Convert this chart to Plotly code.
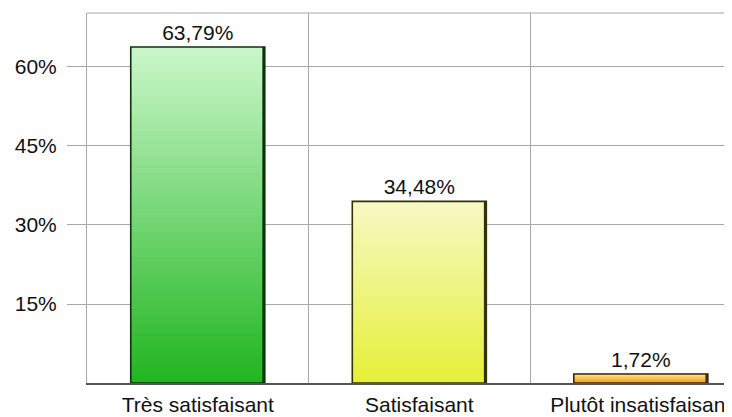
import plotly.graph_objects as go

categories = ["Très satisfaisant", "Satisfaisant", "Plutôt insatisfaisant"]
values = [63.79, 34.48, 1.72]
top_colors = ["#c9f6c9", "#f6f9c2", "#fde089"]
bottom_colors = ["#22b622", "#e6f03a", "#f0a21a"]
edge_colors = ["#0b320b", "#33330a", "#3a2a05"]
y_ticks = [15, 30, 45, 60]
y_labels = ["15%", "30%", "45%", "60%"]

N_STEPS = 40


def mix(c1, c2, t):
    a = [int(c1[i:i + 2], 16) for i in (1, 3, 5)]
    b = [int(c2[i:i + 2], 16) for i in (1, 3, 5)]
    return "rgb({},{},{})".format(*[round(a[k] + (b[k] - a[k]) * t) for k in range(3)])


fig = go.Figure()
bar_w = 0.605
shadow_w = 0.011

# gradient: each slice runs from its base up to the bar top, later slices cover earlier ones
for i, (cat, v) in enumerate(zip(categories, values)):
    step = v / N_STEPS
    fig.add_trace(go.Bar(
        x=[cat] * N_STEPS,
        y=[v - k * step for k in range(N_STEPS)],
        base=[k * step for k in range(N_STEPS)],
        width=bar_w,
        marker=dict(color=[mix(bottom_colors[i], top_colors[i], k / (N_STEPS - 1)) for k in range(N_STEPS)],
                    line=dict(width=0)),
        hoverinfo="skip",
        showlegend=False,
    ))

# dark strip on the right side of each bar
fig.add_trace(go.Bar(
    x=categories,
    y=values,
    width=shadow_w,
    offset=bar_w / 2 - shadow_w,
    marker=dict(color=edge_colors, line=dict(width=0)),
    hoverinfo="skip",
    showlegend=False,
))

# outline + labels
fig.add_trace(go.Bar(
    x=categories,
    y=values,
    width=bar_w,
    marker=dict(color="rgba(0,0,0,0)", line=dict(color=edge_colors, width=1.6)),
    text=[f"{v:.2f}%".replace(".", ",") for v in values],
    textposition="outside",
    cliponaxis=False,
    textfont=dict(size=21, color="#111111"),
    showlegend=False,
))

# the page puts the figure 8px in from the top-left corner
fig.update_layout(
    width=724, height=409,
    barmode="overlay",
    plot_bgcolor="white", paper_bgcolor="white",
    margin=dict(l=79, r=1, t=5, b=34),
    font=dict(family="Liberation Sans, Arial", size=21, color="#111111"),
    showlegend=False,
)
fig.update_xaxes(
    type="category",
    range=[-0.5, 2.407],
    tickson="boundaries",
    showgrid=True, gridcolor="#a8a8a8", gridwidth=1,
    ticks="", showline=True, linecolor="#555555", linewidth=1.5,
    tickfont=dict(size=21),
    ticklabelstandoff=2,
)
fig.update_yaxes(
    range=[0, 70.25],
    tickmode="array",
    tickvals=y_ticks,
    ticktext=y_labels,
    showgrid=True, gridcolor="#a8a8a8", gridwidth=1,
    ticks="outside", ticklen=19, tickcolor="#a8a8a8",
    showline=True, linecolor="#a8a8a8", linewidth=1,
    zeroline=False,
    ticklabelstandoff=6,
)
fig.add_shape(type="line", xref="paper", yref="paper", x0=0, x1=1, y0=1, y1=1,
              line=dict(color="#a8a8a8", width=1))

fig.write_html("out.html")
